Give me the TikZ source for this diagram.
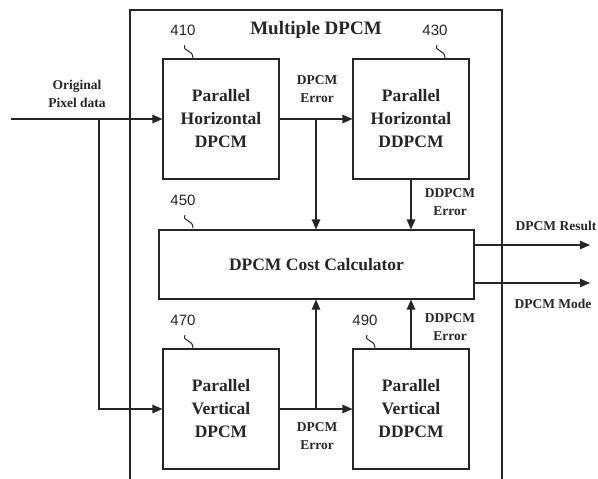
\documentclass[tikz,border=0pt]{standalone}
\usepackage{fontspec}
\setmainfont{Liberation Serif}
\newfontfamily\numfont{Liberation Sans}
\usetikzlibrary{arrows.meta}

\begin{document}
\begin{tikzpicture}[x=1pt,y=-1pt,color=black!85,line width=1.1pt,
    block/.style={draw, minimum width=116pt, minimum height=120pt, align=center,
      font=\fontsize{17.5}{23}\selectfont\bfseries},
    lbl/.style={align=center, font=\fontsize{13.5}{18}\selectfont\bfseries},
    num/.style={font=\fontsize{15}{15}\selectfont\numfont},
    arr/.style={-{Triangle[length=10pt,width=8.5pt]}},
    lead/.style={line width=1pt}]
  \useasboundingbox (0,0) rectangle (598,479);
  % outer frame, open at the bottom
  \draw (130,479) -- (130,10) -- (502,10) -- (502,479);
  \node[font=\fontsize{19}{19}\selectfont\bfseries] (title) at (316,30) {Multiple DPCM};

  % blocks
  \node[block] (hdpcm)  at (221,119) {Parallel\\Horizontal\\DPCM};
  \node[block] (hddpcm) at (411,119) {Parallel\\Horizontal\\DDPCM};
  \node[block, minimum width=315pt, minimum height=69pt] (calc) at (316.5,264.5) {DPCM Cost Calculator};
  \node[block] (vdpcm)  at (221,409) {Parallel\\Vertical\\DPCM};
  \node[block] (vddpcm) at (411,409) {Parallel\\Vertical\\DDPCM};

  % reference numbers
  \foreach \n/\x/\y in {410/183/30, 430/435/30, 450/183/200, 470/183/320, 490/365/320}{
    \node[num] (n\n) at (\x,\y) {\n};
    \draw[lead] (\x+2,\y+15) .. controls (\x-1,\y+22) and (\x+10,\y+19) .. (\x+10,\y+28);
  }

  % input
  \coordinate (in) at (11,119);
  \coordinate (split) at (99,119);
  \draw[arr] (in) -- (hdpcm.west);
  \draw[arr] (split) |- (vdpcm.west);
  \node[lbl] (inlbl) at (77,94) {Original\\Pixel data};

  % horizontal errors
  \coordinate (herr) at (316,119);
  \draw[arr] (hdpcm.east) -- (hddpcm.west);
  \draw[arr] (herr) -- (herr |- calc.north);
  \draw[arr] (hddpcm.south) -- (hddpcm.south |- calc.north);
  \node[lbl] (herrlbl) at (317,89) {DPCM\\Error};
  \node[lbl] (hderrlbl) at (450,202) {DDPCM\\Error};

  % vertical errors
  \coordinate (verr) at (316,409);
  \draw[arr] (vdpcm.east) -- (vddpcm.west);
  \draw[arr] (verr) -- (verr |- calc.south);
  \draw[arr] (vddpcm.north) -- (vddpcm.north |- calc.south);
  \node[lbl] (verrlbl) at (317,436) {DPCM\\Error};
  \node[lbl] (vderrlbl) at (450,327) {DDPCM\\Error};

  % outputs
  \coordinate (res) at (590,245);
  \coordinate (mode) at (590,283);
  \draw[arr] (res -| calc.east) -- (res);
  \draw[arr] (mode -| calc.east) -- (mode);
  \node[lbl] (reslbl) at (556,226) {DPCM Result};
  \node[lbl] (modelbl) at (553,304) {DPCM Mode};
\end{tikzpicture}
\end{document}
